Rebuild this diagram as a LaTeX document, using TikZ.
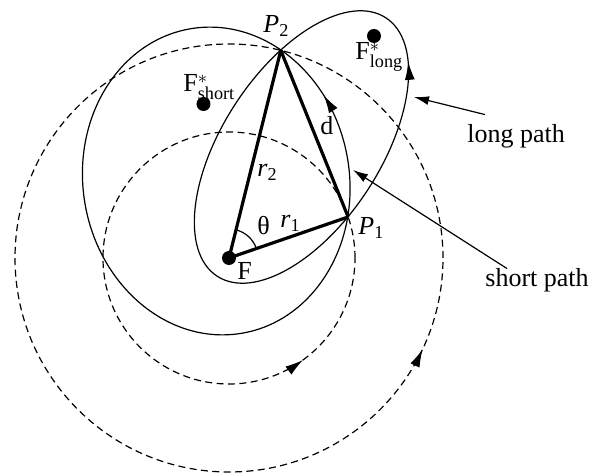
\documentclass[tikz,border=0pt]{standalone}
\usepackage{fontspec}
\setmainfont{Liberation Serif}
\usetikzlibrary{arrows.meta, decorations.markings, angles, positioning}

\begin{document}
\begin{tikzpicture}[x=0.5pt, y=0.5pt,
  every node/.style={font=\fontsize{13}{15}\selectfont, inner sep=0pt},
  orbit/.style={semithick, dash pattern=on 3.5pt off 2.2pt},
  transfer/.style={semithick},
  leg/.style={line width=1.6pt},
  pointer/.style={semithick, -{Latex[length=7.5pt,width=4.5pt]}},
  flow/.style={postaction={decorate}, decoration={markings,
      mark=at position #1 with {\arrow{Latex[length=9pt,width=5pt]}}}}]
  \useasboundingbox (-229,-218) rectangle (371,258);

  % Focus, the two positions and the vacant foci
  \coordinate (F) at (0,0);
  \coordinate (P1) at (19:126);
  \coordinate (P2) at (76:214);
  \coordinate (Fs) at (-25.5,154);
  \coordinate (Fl) at (145,222);

  % Circular orbits through P1 and P2
  \draw[orbit, flow=0.85] (F) circle [radius=126];
  \draw[orbit, flow=0.93] (F) circle [radius=214];

  % Transfer ellipses
  \draw[transfer, flow=0.826, rotate around={99.4:(-12.75,77)}] (-12.75,77) ellipse [x radius=154.4, y radius=133.2];
  \draw[transfer, flow=0.932, rotate around={56.85:(72.5,111)}] (72.5,111) ellipse [x radius=154.3, y radius=78.9];

  % Radii and chord
  \draw[leg] (F) -- (P1);
  \draw[leg] (F) -- (P2);
  \draw[leg] (P1) -- (P2);
  \pic[draw, semithick, angle radius=14.5pt] {angle=P1--F--P2};

  % Foci
  \fill (F) circle [radius=7];
  \fill (Fs) circle [radius=7];
  \fill (Fl) circle [radius=7];

  % Labels
  \node (lF) at (8,-22) [anchor=base west] {F};
  \node (lP1) at (129,23) [anchor=base west] {\textit{P}\textsubscript{1}};
  \node (lP2) at (34,225) [anchor=base west] {\textit{P}\textsubscript{2}};
  \node (lth) at (28,23) [anchor=base west] {θ};
  \node (lr1) at (51,30) [anchor=base west] {\textit{r}\textsubscript{1}};
  \node (lr2) at (28,81) [anchor=base west] {\textit{r}\textsubscript{2}};
  \node (ld) at (91,123) [anchor=base west] {d};
  \node (lFs) at (-46,166) [anchor=base west] {$\mathrm{F}^{\mathrm{*}}_{\mathrm{short}}$};
  \node (lFl) at (126,198) [anchor=base west] {$\mathrm{F}^{\mathrm{*}}_{\mathrm{long}}$};

  % Path annotations
  \node (longlbl) at (238,115) [anchor=base west] {long path};
  \node (shortlbl) at (256,-29) [anchor=base west] {short path};
  \coordinate (ltip) at (185,161);
  \coordinate (stip) at (124,88);
  \draw[pointer] ([shift={(18,10)}]longlbl.north west) -- (ltip);
  \draw[pointer] ([shift={(22,0)}]shortlbl.north west) -- (stip);
\end{tikzpicture}
\end{document}
